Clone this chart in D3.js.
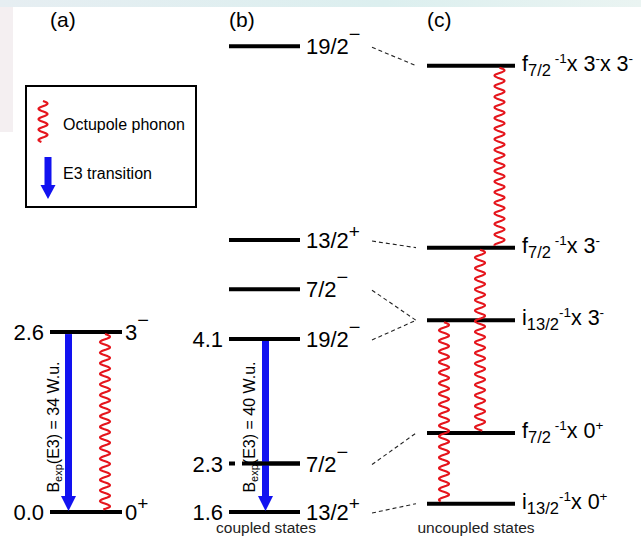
<!DOCTYPE html>
<html>
<head>
<meta charset="utf-8">
<script src="https://cdn.jsdelivr.net/npm/d3@7"></script>
<style>
  body { margin: 0; background: #fff; }
  svg { display: block; font-family: "Liberation Sans", Arial, Helvetica, sans-serif; }
</style>
</head>
<body>
<div class="chart-div"></div>
<script>
// level data (energies in MeV)
const aEnergy = [0.0, 2.6];
const aSpin = ["0^{+}", "3^{−}"];
const aEnergyLabel = ["0.0", "2.6"];

const bEnergy = [1.6, 2.3, 4.1, 4.82, 5.53, 8.33];
const bSpin = ["13/2^{+}", "7/2^{−}", "19/2^{−}", "7/2^{−}", "13/2^{+}", "19/2^{−}"];
const bEnergyLabel = ["1.6", "2.3", "4.1", null, null, null];

const cEnergy = [1.72, 2.74, 4.37, 5.42, 8.05];
const cConfig = ["i_{13/2}^{-1}x 0^{+}", "f_{7/2}^{ -1}x 0^{+}", "i_{13/2}^{-1}x 3^{-}",
                 "f_{7/2}^{ -1}x 3^{-}", "f_{7/2}^{ -1}x 3^{-}x 3^{-}"];

// b level -> c level (dashed links)
const links = [[0, 0], [1, 1], [2, 2], [3, 2], [4, 3], [5, 4]];
// phonons in c: [lower, upper]
const cPhonons = [[0, 2], [1, 3], [3, 4]];
// E3 transitions: [panel, from, to, B(E3) W.u.]
const e3 = [["a", 1, 0, 34], ["b", 2, 0, 40]];

const panelTitles = ["(a)", "(b)", "(c)"];
const bottomLabels = ["coupled states", "uncoupled states"];

const w = 641, h = 545;
const red = "#e5151c", blue = "#1212f0";

const svg = d3.select(".chart-div").append("svg")
  .attr("width", w).attr("height", h);

// faint slide background bits
const grad = svg.append("defs").append("linearGradient").attr("id", "topg")
  .attr("x1", 0).attr("x2", 1);
grad.append("stop").attr("offset", 0).attr("stop-color", "#e6eef2");
grad.append("stop").attr("offset", 0.6).attr("stop-color", "#dcefef");
grad.append("stop").attr("offset", 1).attr("stop-color", "#eaf4f2");
svg.append("rect").attr("width", w).attr("height", 7).attr("fill", "url(#topg)");
svg.append("rect").attr("y", 7).attr("width", 13).attr("height", 125).attr("fill", "#f4eff1");

const y = d3.scaleLinear().domain([0, 9]).range([512, 512 - 9 * 69.2]);
const offset = { a: 0, b: 1.6, c: 1.6 };
const xr = { a: [50, 122], b: [229, 300], c: [427, 515] };
const yOf = (p, e) => y(e - offset[p]);

// label with _{sub} and ^{sup}
function richText(sel, str, size, sub, sup) {
  const parts = str.match(/(_\{[^}]*\}|\^\{[^}]*\}|[^_^]+)/g);
  let cur = 0;
  parts.forEach(p => {
    let t = p, fs = size, off = 0;
    if (p[0] === "_") { t = p.slice(2, -1); fs = sub.size; off = sub.dy; }
    else if (p[0] === "^") {
      t = p.slice(2, -1);
      const s = sup(t);
      fs = s.size; off = s.dy;
    }
    sel.append("tspan").attr("font-size", fs).attr("dy", off - cur)
      .attr("xml:space", "preserve").style("white-space", "pre").text(t);
    cur = off;
  });
}
const bigSup = t => t === "+" ? { size: 19, dy: -10 } : { size: 20, dy: -13 };
const smallSup = t => ({ size: 13.5, dy: -8 });

function levels(p, energies) {
  const g = svg.append("g");
  g.selectAll("line").data(energies).join("line")
    .attr("x1", xr[p][0]).attr("x2", xr[p][1])
    .attr("y1", d => yOf(p, d)).attr("y2", d => yOf(p, d))
    .attr("stroke", "#000").attr("stroke-width", 4);
  return g;
}

levels("a", aEnergy);
levels("b", bEnergy);
levels("c", cEnergy);

// dashed links b -> c
svg.append("g").selectAll("line").data(links).join("line")
  .attr("x1", 372).attr("x2", 416)
  .attr("y1", d => yOf("b", bEnergy[d[0]]) + 1)
  .attr("y2", d => yOf("c", cEnergy[d[1]]))
  .attr("stroke", "#222").attr("stroke-width", 1.1).attr("stroke-dasharray", "4,3");

// wavy phonon line
const waveLine = d3.line();
function wave(g, cx, y1, y2, amp, lambda) {
  const pts = d3.range(y1, y2 + 0.01, 0.5).map(yy => [cx + amp * Math.sin(2 * Math.PI * (yy - y1) / lambda), yy]);
  g.append("path").attr("d", waveLine(pts)).attr("fill", "none")
    .attr("stroke", red).attr("stroke-width", 2.1);
}
function arrow(g, cx, y1, y2, shaft, head, headLen) {
  g.append("rect").attr("x", cx - shaft / 2).attr("y", y1).attr("width", shaft)
    .attr("height", y2 - y1 - headLen + 1).attr("fill", blue);
  g.append("path").attr("d", `M${cx - head / 2},${y2 - headLen}L${cx + head / 2},${y2 - headLen}L${cx},${y2}Z`)
    .attr("fill", blue);
}

const marks = svg.append("g");
// phonon in a
wave(marks, 105, yOf("a", aEnergy[1]) + 2, yOf("a", aEnergy[0]) - 2, 5, 10.6);
// phonons in c
const laneX = [444, 480, 499.5];
cPhonons.forEach((d, i) => {
  wave(marks, laneX[i], yOf("c", cEnergy[d[1]]) + 2, yOf("c", cEnergy[d[0]]) - 2, 5, 10.6);
});

// E3 arrows + rotated labels
const arrowX = { a: 68.5, b: 265.5 };
const textX = { a: 59, b: 255 };
e3.forEach(([p, from, to, bval]) => {
  const en = p === "a" ? aEnergy : bEnergy;
  const y1 = yOf(p, en[from]) + 2, y2 = yOf(p, en[to]) - 1;
  arrow(marks, arrowX[p], y1, y2, 7, 15, 15);
  const tx = textX[p], ty = 427;
  const t = marks.append("text")
    .attr("transform", `translate(${tx},${ty}) rotate(-90)`)
    .attr("text-anchor", "middle").attr("font-size", 16);
  t.append("tspan").text("B");
  t.append("tspan").attr("font-size", 11).attr("dy", 3).text("exp");
  t.append("tspan").attr("dy", -3).text(`(E3) = ${bval} W.u.`);
});

// panel b 2.3 level broken around the label, redraw piece over arrow
const y23 = yOf("b", bEnergy[1]);
marks.append("rect").attr("x", 235).attr("y", y23 - 3).attr("width", 7).attr("height", 6).attr("fill", "#fff");
marks.append("line").attr("x1", 257).attr("x2", 300).attr("y1", y23).attr("y2", y23)
  .attr("stroke", "#000").attr("stroke-width", 4);

// energy labels
const txt = svg.append("g").attr("fill", "#000");
function energyLabels(p, energies, labels) {
  txt.append("g").selectAll("text").data(energies.map((e, i) => [e, labels[i]]).filter(d => d[1]))
    .join("text")
    .attr("x", xr[p][0] - 6).attr("y", d => yOf(p, d[0]) + 8)
    .attr("text-anchor", "end").attr("font-size", 22).text(d => d[1]);
}
energyLabels("a", aEnergy, aEnergyLabel);
energyLabels("b", bEnergy, bEnergyLabel);

function spinLabels(p, energies, spins, dx, dyBase, size, sub, sup) {
  energies.forEach((e, i) => {
    const t = txt.append("text").attr("x", xr[p][1] + dx).attr("y", yOf(p, e) + dyBase)
      .attr("font-size", size);
    richText(t, spins[i], size, sub, sup);
  });
}
spinLabels("a", aEnergy, aSpin, 3, 8, 22, { size: 19, dy: 0 }, bigSup);
spinLabels("b", bEnergy, bSpin, 6, 8, 22, { size: 19, dy: 0 }, bigSup);
spinLabels("c", cEnergy, cConfig, 7, 5, 21.5, { size: 16.5, dy: 5 }, smallSup);

// panel titles
[50, 229, 427].forEach((x, i) => {
  txt.append("text").attr("x", x).attr("y", 27).attr("font-size", 21).text(panelTitles[i]);
});

// bottom captions
txt.append("text").attr("x", 266).attr("y", 533).attr("text-anchor", "middle")
  .attr("font-size", 15.5).attr("fill", "#222").text(bottomLabels[0]);
txt.append("text").attr("x", 476).attr("y", 533).attr("text-anchor", "middle")
  .attr("font-size", 15.5).attr("fill", "#222").text(bottomLabels[1]);

// legend
const lg = svg.append("g");
lg.append("rect").attr("x", 26).attr("y", 86).attr("width", 170).attr("height", 121)
  .attr("fill", "#fff").attr("stroke", "#000").attr("stroke-width", 2);
wave(lg, 43, 101, 142, 4.5, 10.4);
arrow(lg, 48, 157, 199, 7, 15, 14);
lg.append("text").attr("x", 63).attr("y", 130).attr("font-size", 16).text("Octupole phonon");
lg.append("text").attr("x", 63).attr("y", 179).attr("font-size", 16).text("E3 transition");
</script>
</body>
</html>
